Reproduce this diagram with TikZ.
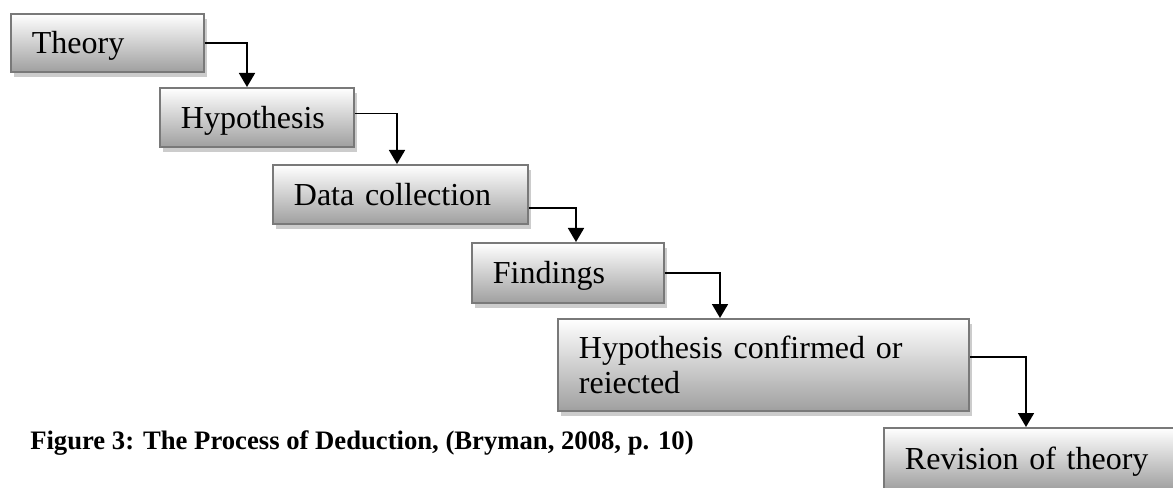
\documentclass[tikz,border=0pt]{standalone}
\usepackage{fontspec}
\setmainfont{Liberation Serif}
\usepackage{tikz}
\usetikzlibrary{calc,shadows,arrows.meta}

\tikzset{
  stage/.style={draw=gray!95!black, line width=1.4pt, top color=white, bottom color=gray!75,
    drop shadow={shadow xshift=2.5pt, shadow yshift=-3.5pt, fill=gray!40, opacity=1},
    anchor=north west, align=left, inner xsep=15.75pt, inner ysep=0pt,
    font=\fontsize{24}{26.25}\selectfont, text height=16pt, text depth=0pt},
  flow/.style={line width=1.3pt, -{Triangle[length=10.5pt,width=12pt]}}
}

\begin{document}
\begin{tikzpicture}[x=0.75pt,y=0.75pt]
\useasboundingbox (0,0) rectangle (1173,-488);
\clip (0,0) rectangle (1173,-488);
% the stages
\node[stage, text width=113.25pt, minimum height=43.5pt] (theory) at (10,-13) {Theory};
\node[stage, text width=114pt, minimum height=44.25pt] (hypo) at (159,-87) {Hypothesis};
\node[stage, text width=159.75pt, minimum height=44.25pt] (data) at (272,-164) {Data collection};
\node[stage, text width=112.5pt, minimum height=45pt] (findings) at (471,-242) {Findings};
\node[stage, text width=276.75pt, minimum height=69pt, text height=, text depth=] (confirm) at (557,-318) {Hypothesis confirmed or\\reiected};
\node[stage, text width=201pt, minimum height=46.5pt] (revision) at (883,-427) {Revision of theory};
% connectors
\draw[flow] (theory.east) -| ($(hypo.north west)+(88,0)$);
\draw[flow] ($(hypo.east)+(0,4)$) -| ($(data.north west)+(125,0)$);
\draw[flow] ($(data.east)+(0,-13.5)$) -| ($(findings.north west)+(105,0)$);
\draw[flow] (findings.east) -| ($(confirm.north west)+(163,0)$);
\draw[flow] ($(confirm.east)+(0,8)$) -| ($(revision.north west)+(143,0)$);
% caption
\node[anchor=base west, inner sep=0pt, font=\bfseries\fontsize{20}{24}\selectfont] (caption) at (30,-449) {Figure 3: The Process of Deduction, (Bryman, 2008, p. 10)};
\end{tikzpicture}
\end{document}
